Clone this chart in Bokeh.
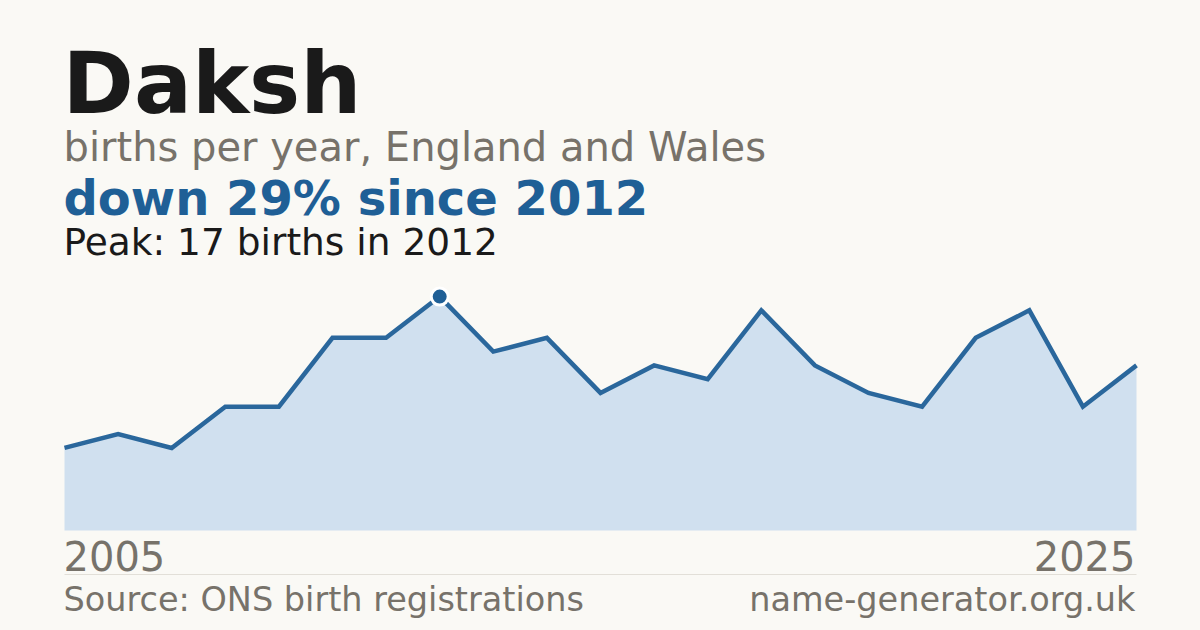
from bokeh.plotting import figure
from bokeh.models import Label, Range1d
from bokeh.embed import file_html
from bokeh.resources import INLINE

# ---- data ----
years = list(range(2005, 2026))
births = [6, 7, 6, 9, 9, 14, 14, 17, 13, 14, 10, 12, 11, 16, 12, 10, 9, 14, 16, 9, 12]
peak_year = [2012]
peak_value = [17]

name = "Daksh"
subtitle = "births per year, England and Wales"
headline = "down 29% since 2012"
peak_text = "Peak: 17 births in 2012"
start_label = "2005"
end_label = "2025"
source_text = "Source: ONS birth registrations"
site_text = "name-generator.org.uk"

BG = "#faf9f5"
BLUE = "#1f5f96"
GREY = "#77726a"
DARK = "#1a1a1a"
FONT = "DejaVu Sans"

W, H = 1200, 630
x_left, x_right = 64, 1136
y_zero_from_bottom = H - 530
px_per_unit = 13.76
px_per_year = (x_right - x_left) / (years[-1] - years[0])

x0 = years[0] - x_left / px_per_year
x1 = years[-1] + (W - x_right) / px_per_year
y0 = -y_zero_from_bottom / px_per_unit
y1 = (H - y_zero_from_bottom) / px_per_unit

p = figure(width=W, height=H, output_backend="svg", toolbar_location=None,
           x_range=Range1d(x0, x1), y_range=Range1d(y0, y1),
           min_border=0, min_border_left=0, min_border_right=0,
           min_border_top=0, min_border_bottom=0)
p.axis.visible = False
p.grid.visible = False
p.outline_line_color = None
p.background_fill_color = BG
p.border_fill_color = BG

p.varea(x=years, y1=[0] * len(years), y2=births, fill_color="#d0e0ef")
p.line(x=years, y=births, line_color="#2a679c", line_width=4.5, line_join="miter")
p.scatter(x=peak_year, y=peak_value, size=17, fill_color=BLUE,
          line_color="#ffffff", line_width=3)

def lab(text, x, baseline, size, color, bold=False, align="left"):
    # baseline measured from page top; empirical correction for label placement
    y = H - baseline + 0.37 * size
    l = Label(x=x, y=y, x_units="screen", y_units="screen",
              text=text, text_font=FONT, text_font_size=f"{size}px",
              text_color=color, text_align=align, text_baseline="alphabetic",
              text_font_style="bold" if bold else "normal")
    p.add_layout(l)

lab(name, 62, 114, 86, DARK, bold=True)
lab(subtitle, 63, 161, 40, GREY)
lab(headline, 63, 215, 48, BLUE, bold=True)
lab(peak_text, 63, 255, 37.5, DARK)
lab(start_label, 63, 570, 40, GREY)
lab(end_label, 1135, 570, 40, GREY, align="right")
lab(source_text, 63, 611, 33.5, GREY)
lab(site_text, 1135, 611, 33.5, GREY, align="right")

sep_y = -(574 - 530) / px_per_unit
p.segment(x0=[years[0]], x1=[years[-1]], y0=[sep_y], y1=[sep_y],
          line_color="#e2dfd8", line_width=1)

html = file_html(p, INLINE)
html = html.replace("<head>", "<head><style>html,body{background:%s;margin:0;}</style>" % BG, 1)
open("out.html", "w").write(html)
